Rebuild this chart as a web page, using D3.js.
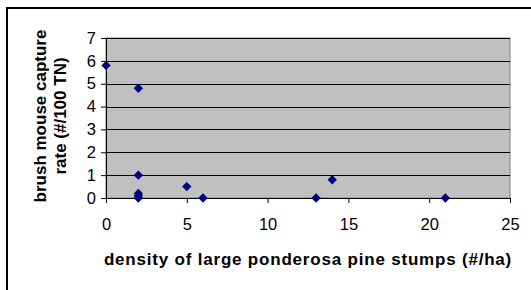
<!DOCTYPE html>
<html>
<head>
<meta charset="utf-8">
<script src="https://cdn.jsdelivr.net/npm/d3@7"></script>
<style>
  body { margin: 0; background: #fff; }
  .chart { width: 531px; height: 290px; }
  text { font-family: Arial, "Liberation Sans", sans-serif; }
</style>
</head>
<body>
<div class="chart"></div>
<script>
// values
let stumpDensity = [0, 2, 2, 2, 2, 2, 5, 6, 13, 14, 21];
let captureRate = [5.8, 4.8, 1.0, 0.2, 0.1, 0, 0.5, 0, 0, 0.8, 0];
let xTicks = [0, 5, 10, 15, 20, 25];
let yTicks = [0, 1, 2, 3, 4, 5, 6, 7];
let xTitle = "density of large ponderosa pine stumps (#/ha)";
let yTitle = ["brush mouse capture", "rate (#/100 TN)"];

let chart = {};

chart.points = stumpDensity.map((d, i) => {
    return { x: d, y: captureRate[i] };
});

chart.margin = { top: 38, right: 21, bottom: 92, left: 106 };
chart.width = 531 - chart.margin.left - chart.margin.right;
chart.height = 290 - chart.margin.top - chart.margin.bottom;

chart.xScale = d3.scaleLinear().domain([0, 25]).range([0, chart.width]);
chart.yScale = d3.scaleLinear().domain([0, 7]).range([chart.height, 0]);

chart.svg = d3.select(".chart").append("svg")
    .attr("width", 531)
    .attr("height", 290);

// outer frame (right and bottom edges fall outside the window)
chart.svg.append("rect")
    .attr("x", 7).attr("y", 8)
    .attr("width", 540).attr("height", 300)
    .attr("fill", "#fff")
    .attr("stroke", "#000")
    .attr("stroke-width", 2);

chart.plot = chart.svg.append("g")
    .attr("transform", `translate(${chart.margin.left},${chart.margin.top})`);

// plot area
chart.plot.append("rect")
    .attr("x", 0).attr("y", 0)
    .attr("width", chart.width).attr("height", chart.height)
    .attr("fill", "#c0c0c0")
    .attr("stroke", "#808080")
    .attr("stroke-width", 1);

// gridlines
chart.plot.append("g")
    .selectAll("line")
    .data(yTicks.filter(d => d > 0))
    .enter()
    .append("line")
    .attr("x1", 0).attr("x2", chart.width)
    .attr("y1", d => Math.round(chart.yScale(d)) + 0.5)
    .attr("y2", d => Math.round(chart.yScale(d)) + 0.5)
    .attr("stroke", "#000");

chart.xAxis = chart.plot.append("g")
    .attr("transform", `translate(0,${chart.height})`)
    .call(d3.axisBottom(chart.xScale).tickValues(xTicks).tickSize(5).tickPadding(15));

chart.yAxis = chart.plot.append("g")
    .call(d3.axisLeft(chart.yScale).tickValues(yTicks).tickFormat(d3.format("d")).tickSize(5).tickPadding(5));

chart.svg.selectAll(".tick text")
    .attr("font-size", 16.5)
    .attr("font-family", "Arial, 'Liberation Sans', sans-serif")
    .attr("fill", "#000");

chart.svg.selectAll(".domain, .tick line").attr("stroke", "#000");

// markers
chart.plot.selectAll(".dot")
    .data(chart.points)
    .enter()
    .append("path")
    .attr("class", "dot")
    .attr("d", d3.symbol().type(d3.symbolDiamond2).size(56))
    .attr("transform", d => `translate(${chart.xScale(d.x)},${chart.yScale(d.y)})`)
    .attr("fill", "#000080");

// axis titles
chart.svg.append("text")
    .attr("x", 308)
    .attr("y", 265)
    .attr("text-anchor", "middle")
    .attr("font-size", 17)
    .attr("font-weight", "bold")
    .attr("letter-spacing", 0.8)
    .text(xTitle);

chart.svg.append("g")
    .attr("transform", "translate(0,116) rotate(-90)")
    .selectAll("text")
    .data(yTitle)
    .enter()
    .append("text")
    .attr("x", 0)
    .attr("y", (d, i) => 46 + i * 20)
    .attr("text-anchor", "middle")
    .attr("font-size", 17)
    .attr("font-weight", "bold")
    .text(d => d);
</script>
</body>
</html>
